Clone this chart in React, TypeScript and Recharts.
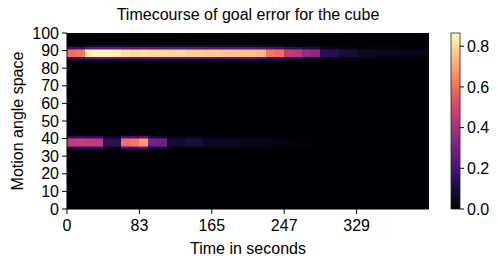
import React from "react";
import { ScatterChart, XAxis, YAxis, CartesianGrid, ReferenceArea, BarChart, Bar } from "recharts";

const FONT = "'Liberation Sans', Arial, Helvetica, sans-serif";

// time is split into 40 bins, the x ticks sit every 8 bins
const N_BINS = 40;
const X_TICKS = [0, 8, 16, 24, 32];
const X_TICK_LABELS = ["0", "83", "165", "247", "329"];
const Y_TICKS = [0, 10, 20, 30, 40, 50, 60, 70, 80, 90, 100];
const CBAR_TICKS = [0, 0.2, 0.4, 0.6, 0.8];
const V_MAX = 0.865;

// goal error per time bin, band near 88 and band near 38
const BAND_CENTERS = [88.6, 37.8];
const UPPER_BAND = [
  0.6, 0.62, 0.84, 0.85, 0.85, 0.84, 0.81, 0.8, 0.81, 0.8,
  0.8, 0.79, 0.8, 0.78, 0.78, 0.77, 0.77, 0.76, 0.76, 0.75,
  0.75, 0.74, 0.62, 0.6, 0.45, 0.44, 0.36, 0.34, 0.14, 0.13,
  0.09, 0.09, 0.05, 0.05, 0.04, 0.04, 0.04, 0.03, 0.03, 0.03,
];
const LOWER_BAND = [
  0.46, 0.47, 0.46, 0.45, 0.14, 0.13, 0.6, 0.62, 0.7, 0.3,
  0.29, 0.08, 0.07, 0.1, 0.09, 0.05, 0.05, 0.05, 0.05, 0.04,
  0.04, 0.04, 0.03, 0.02, 0.02, 0.01, 0.01, 0, 0, 0,
  0, 0, 0, 0, 0, 0, 0, 0, 0, 0,
];
const BANDS = [UPPER_BAND, LOWER_BAND];
// vertical spread of a band: [from, to, share of the value], in units around its center
const SPREAD: [number, number, number][] = [
  [-4.5, -3.5, 0.08],
  [-3.5, -2.5, 0.3],
  [-2.5, -2, 0.7],
  [-2, 2, 1],
  [2, 2.5, 0.7],
  [2.5, 3.5, 0.3],
  [3.5, 4.5, 0.08],
];

// magma colormap stops
const MAGMA = [
  "#000004", "#140e36", "#3b0f70", "#641a80", "#8c2981", "#b73779",
  "#de4968", "#f7705c", "#fe9f6d", "#fecf92", "#fcfdbf",
];

const hex = (c: string) => [1, 3, 5].map((i) => parseInt(c.slice(i, i + 2), 16));

function magma(v: number) {
  const t = Math.max(0, Math.min(1, v / V_MAX)) * (MAGMA.length - 1);
  const i = Math.min(MAGMA.length - 2, Math.floor(t));
  const f = t - i;
  const a = hex(MAGMA[i]);
  const b = hex(MAGMA[i + 1]);
  const rgb = a.map((x, k) => Math.round(x + (b[k] - x) * f));
  return `rgb(${rgb.join(",")})`;
}

const tickStyle = { fill: "#000", fontSize: 16, fontFamily: FONT };

const cells = BANDS.flatMap((band, b) =>
  SPREAD.flatMap(([from, to, share], r) =>
    band.map((v, c) =>
      v > 0 ? (
        <ReferenceArea
          key={`${b}-${r}-${c}`}
          x1={c}
          x2={c + 1}
          y1={BAND_CENTERS[b] + from}
          y2={BAND_CENTERS[b] + to}
          fill={magma(v * share)}
          fillOpacity={1}
          stroke="none"
          shapeRendering="crispEdges"
        />
      ) : null
    )
  )
);

export default function App() {
  return (
    <div style={{ position: "absolute", left: 0, top: 0, width: 498, height: 264, background: "#fff", fontFamily: FONT }}>
      <div style={{ position: "absolute", left: 67, top: 6, width: 362, textAlign: "center", fontSize: 16, color: "#000" }}>
        Timecourse of goal error for the cube
      </div>
      <div style={{ position: "absolute", left: 0, top: 0 }}>
        <ScatterChart width={440} height={264} margin={{ top: 33, right: 11, bottom: 0, left: 10 }}>
          <CartesianGrid horizontal={false} vertical={false} fill="#000004" fillOpacity={1} />
          <XAxis
            type="number"
            dataKey="x"
            domain={[0, N_BINS]}
            ticks={X_TICKS}
            interval={0}
            tickFormatter={(v: number) => X_TICK_LABELS[X_TICKS.indexOf(v)]}
            allowDataOverflow
            height={55}
            tick={tickStyle}
            tickSize={5}
            tickMargin={6}
            stroke="#000"
            label={{ value: "Time in seconds", position: "insideBottom", offset: 10, fill: "#000", fontSize: 16, fontFamily: FONT }}
          />
          <XAxis
            xAxisId="top"
            orientation="top"
            type="number"
            domain={[0, N_BINS]}
            height={0}
            tick={false}
            tickLine={false}
            stroke="#888"
          />
          <YAxis
            type="number"
            dataKey="y"
            domain={[0, 100]}
            ticks={Y_TICKS}
            interval={0}
            allowDataOverflow
            width={57}
            tick={tickStyle}
            tickSize={5}
            tickMargin={3}
            stroke="#000"
            label={{
              value: "Motion angle space",
              angle: -90,
              position: "insideLeft",
              offset: 7,
              fill: "#000",
              fontSize: 16,
              fontFamily: FONT,
              style: { textAnchor: "middle" },
            }}
          />
          {cells}
        </ScatterChart>
      </div>
      <div style={{ position: "absolute", left: 440, top: 0 }}>
        <BarChart width={58} height={264} data={[{ name: "c", v: V_MAX }]} margin={{ top: 33, right: 0, bottom: 55, left: 11 }} barCategoryGap={0}>
          <defs>
            <linearGradient id="cbar" x1="0" y1="1" x2="0" y2="0">
              {MAGMA.map((c, i) => (
                <stop key={c} offset={`${(i / (MAGMA.length - 1)) * 100}%`} stopColor={c} />
              ))}
            </linearGradient>
          </defs>
          <XAxis dataKey="name" hide />
          <YAxis
            orientation="right"
            domain={[0, V_MAX]}
            ticks={CBAR_TICKS}
            interval={0}
            tickFormatter={(v: number) => v.toFixed(1)}
            width={38}
            axisLine={false}
            tick={tickStyle}
            tickSize={4}
            tickMargin={3}
            stroke="#000"
          />
          <Bar dataKey="v" fill="url(#cbar)" stroke="#222" strokeWidth={0.8} isAnimationActive={false} />
        </BarChart>
      </div>
    </div>
  );
}
